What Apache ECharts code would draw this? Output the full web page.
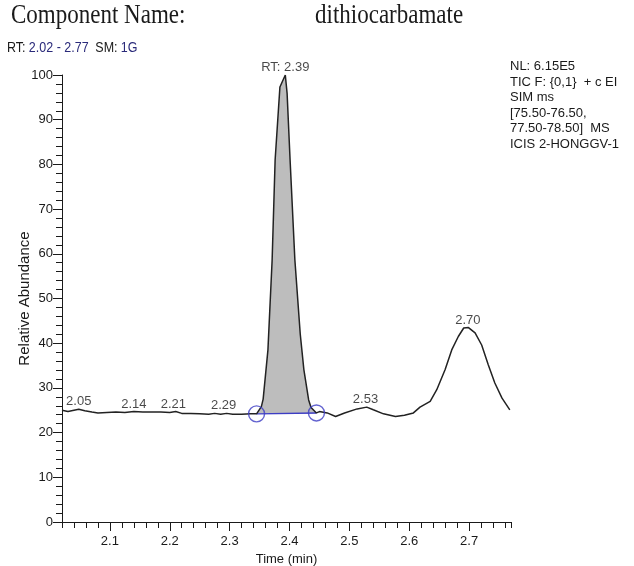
<!DOCTYPE html>
<html>
<head>
<meta charset="utf-8">
<script src="https://cdn.jsdelivr.net/npm/echarts@6/dist/echarts.min.js"></script>
<style>
  html, body { margin: 0; padding: 0; background: #fff; }
  #chart { width: 634px; height: 566px; }
</style>
</head>
<body>
<div id="chart"></div>
<script>
// chromatogram trace (time in min, relative abundance %)
const timeValues = [
  2.020, 2.030, 2.040, 2.048, 2.058, 2.070, 2.080, 2.095, 2.110, 2.125,
  2.140, 2.155, 2.170, 2.185, 2.200, 2.210, 2.220, 2.235, 2.250, 2.265,
  2.275, 2.285, 2.295, 2.305, 2.320, 2.335, 2.345, 2.353, 2.356, 2.364,
  2.371, 2.376, 2.384, 2.393, 2.396, 2.401, 2.409, 2.418, 2.424, 2.432,
  2.436, 2.445, 2.450, 2.463, 2.477, 2.492, 2.513, 2.529, 2.540, 2.557,
  2.577, 2.592, 2.607, 2.618, 2.635, 2.646, 2.660, 2.671, 2.682, 2.691,
  2.699, 2.710, 2.721, 2.732, 2.743, 2.755, 2.768
];
const abundanceValues = [
  25.0, 24.7, 25.0, 25.2, 24.9, 24.6, 24.4, 24.5, 24.6, 24.5,
  24.7, 24.6, 24.6, 24.6, 24.5, 24.7, 24.3, 24.3, 24.2, 24.1,
  24.3, 24.1, 24.3, 24.1, 24.1, 24.2, 24.2, 25.8, 27.5, 38.5,
  58.6, 81.0, 97.3, 100.0, 95.9, 81.0, 58.6, 42.0, 34.1, 27.3,
  25.6, 24.4, 24.7, 24.4, 23.6, 24.4, 25.3, 25.7, 25.1, 24.2,
  23.6, 23.9, 24.4, 25.7, 27.0, 29.6, 34.1, 38.5, 41.5, 43.4,
  43.5, 42.3, 39.6, 35.2, 31.1, 27.7, 25.1
];

// integrated peak baseline (start / end)
const baselineTimes = [2.345, 2.445];
const baselineValues = [24.2, 24.4];

// peak annotations
const labelTimes = [2.048, 2.140, 2.206, 2.290, 2.393, 2.527, 2.698];
const labelValues = [25.2, 24.7, 24.7, 24.3, 100.0, 25.7, 43.5];
const labelTexts = ['2.05', '2.14', '2.21', '2.29', 'RT: 2.39', '2.53', '2.70'];

// axis ticks
const xMajorTicks = [2.1, 2.2, 2.3, 2.4, 2.5, 2.6, 2.7];
const xMin = 2.02, xMax = 2.77;

const headerLines = [
  'NL: 6.15E5',
  'TIC F: {0,1}  + c EI',
  'SIM ms',
  '[75.50-76.50,',
  '77.50-78.50]  MS',
  'ICIS 2-HONGGV-1'
];

const trace = timeValues.map((t, i) => [t, abundanceValues[i]]);
const peakArea = trace.filter((p) => p[0] >= baselineTimes[0] && p[0] <= baselineTimes[1]);
const baseline = baselineTimes.map((t, i) => [t, baselineValues[i]]);
const labels = labelTimes.map((t, i) => ({ value: [t, labelValues[i]], name: labelTexts[i] }));

const blue = '#3d3dc4';
const ink = '#1a1a1a';
const font = 'Liberation Sans, Arial, sans-serif';
const serif = '"Liberation Serif", "Times New Roman", serif';

const chart = echarts.init(document.getElementById('chart'), null, { renderer: 'canvas' });
chart.setOption({
  backgroundColor: '#fff',
  animation: false,
  textStyle: { fontFamily: font },
  grid: { left: 62, right: 123, top: 75, bottom: 44, containLabel: false, outerBoundsMode: 'none' },
  graphic: [
    {
      type: 'text', x: 11, y: 2, scaleY: 1.18,
      style: { text: 'Component Name:', font: '23px ' + serif, fill: ink }
    },
    {
      type: 'text', x: 315, y: 2, scaleY: 1.18,
      style: { text: 'dithiocarbamate', font: '23px ' + serif, fill: ink }
    },
    {
      type: 'text', x: 7, y: 41, scaleY: 1.1,
      style: {
        text: '{k|RT:} {v|2.02 - 2.77}  {k|SM:} {v|1G}',
        rich: {
          k: { fontSize: 12.5, fontFamily: font, fill: ink },
          v: { fontSize: 12.5, fontFamily: font, fill: '#2a2a7a' }
        }
      }
    },
    {
      type: 'text', x: 510, y: 59,
      style: { text: headerLines.join('\n'), font: '13px ' + font, fill: ink, lineHeight: 15.5 }
    }
  ],
  xAxis: [
    {
      type: 'value', min: xMin, max: xMax, interval: 0.02,
      name: 'Time (min)', nameLocation: 'middle', nameGap: 29,
      nameTextStyle: { fontSize: 13, color: ink },
      splitLine: { show: false },
      axisLine: { lineStyle: { color: ink, width: 1 } },
      axisTick: { customValues: xMajorTicks, length: 9, lineStyle: { color: ink } },
      axisLabel: { customValues: xMajorTicks, fontSize: 13, color: ink, margin: 13, formatter: (v) => v.toFixed(1) }
    },
    {
      type: 'value', position: 'bottom', min: xMin, max: xMax, interval: 0.02,
      splitLine: { show: false },
      axisLine: { show: false },
      axisTick: { length: 6, lineStyle: { color: ink } },
      axisLabel: { show: false }
    }
  ],
  yAxis: {
    type: 'value', min: 0, max: 100, interval: 10,
    name: 'Relative Abundance', nameLocation: 'middle', nameGap: 30, nameMoveOverlap: false,
    nameTextStyle: { fontSize: 15, color: ink },
    splitLine: { show: false },
    axisLine: { show: true, lineStyle: { color: ink, width: 1 } },
    axisTick: { show: true, length: 9, lineStyle: { color: ink } },
    minorTick: { show: true, splitNumber: 5, length: 6, lineStyle: { color: ink } },
    minorSplitLine: { show: false },
    axisLabel: { fontSize: 13, color: ink, margin: 9 }
  },
  series: [
    {
      type: 'line', data: peakArea, symbol: 'none', silent: true,
      lineStyle: { width: 0 },
      areaStyle: { color: '#bdbdbd', opacity: 1, origin: baselineValues[0] + 0.1 },
      z: 1
    },
    {
      type: 'line', data: trace, symbol: 'none',
      lineStyle: { color: '#222', width: 1.5 }, z: 3
    },
    {
      type: 'line', data: baseline, symbol: 'none',
      lineStyle: { color: blue, width: 1.4 }, z: 2
    },
    {
      type: 'scatter', data: baseline, symbol: 'circle', symbolSize: 16,
      itemStyle: { color: 'rgba(0,0,0,0)', borderColor: blue, borderWidth: 1.4 }, z: 4
    },
    {
      type: 'scatter', data: labels, symbolSize: 0.1, z: 5,
      label: {
        show: true, position: 'top', distance: 1,
        formatter: (p) => p.name, fontSize: 13, color: ink
      }
    }
  ]
});
</script>
</body>
</html>
